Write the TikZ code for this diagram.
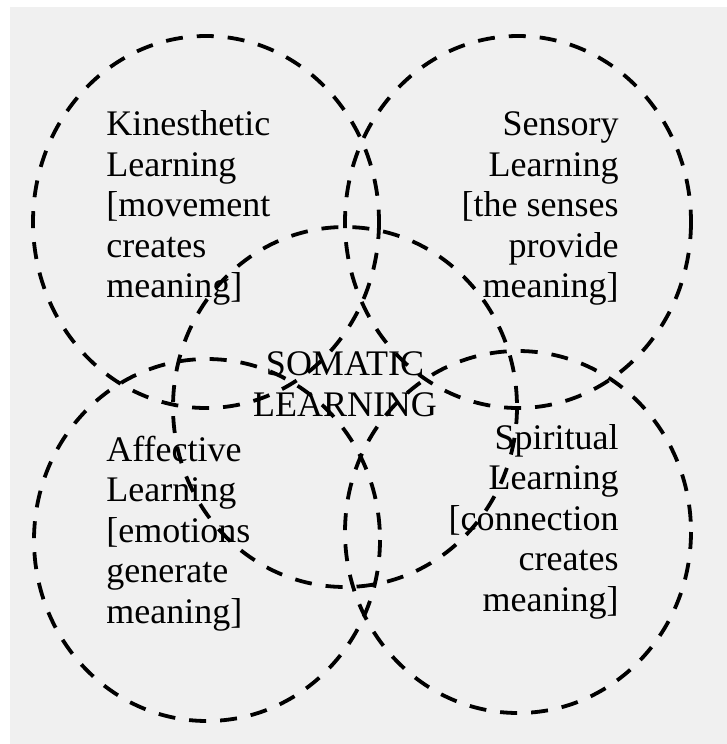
\documentclass[tikz,border=0pt]{standalone}
\usepackage{fontspec}
\setmainfont{Liberation Serif}
\definecolor{bg}{RGB}{240,240,240}
\begin{document}
\begin{tikzpicture}[x=0.5pt,y=-0.5pt,
  ring/.style={draw=black, line width=1.9pt, dash pattern=on 8.5pt off 7pt},
  lbl/.style={font=\fontsize{18}{20.25}\selectfont, inner sep=0pt, text=black}]
\fill[white] (0,0) rectangle (727,744);
\fill[bg] (10,7) rectangle (727,744);
\useasboundingbox (0,0) rectangle (727,744);
% circles
\draw[ring] (206,222) ellipse [x radius=173, y radius=186];
\draw[ring] (518,222) ellipse [x radius=173, y radius=186];
\draw[ring] (207,540) ellipse [x radius=173, y radius=181];
\draw[ring] (518,532) ellipse [x radius=173, y radius=181];
\draw[ring] (345,407) ellipse [x radius=172, y radius=180];
% labels (anchored at the baseline of the last line)
\node[lbl, anchor=base west, align=left] (kin) at (106,297.5)
  {Kinesthetic\\Learning\\{[}movement\\creates\\meaning]};
\node[lbl, anchor=base east, align=right] (sen) at (619,297.5)
  {Sensory\\Learning\\{[}the senses\\provide\\meaning]};
\node[lbl, anchor=base west, align=left] (aff) at (106,623)
  {Affective\\Learning\\{[}emotions\\generate\\meaning]};
\node[lbl, anchor=base east, align=right] (spi) at (619,611)
  {Spiritual\\Learning\\{[}connection\\creates\\meaning]};
\node[lbl, anchor=base, align=center] (som) at (345,416)
  {SOMATIC\\LEARNING};
\end{tikzpicture}
\end{document}
